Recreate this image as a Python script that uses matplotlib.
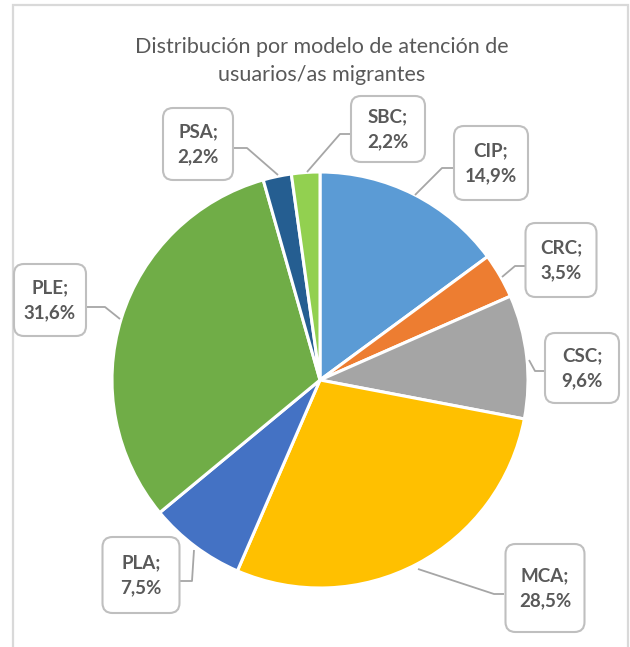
import matplotlib
matplotlib.use("Agg")
import matplotlib.pyplot as plt
from matplotlib.patches import FancyBboxPatch, Rectangle

title = "Distribución por modelo de atención de\nusuarios/as migrantes"
categories = ["CIP", "CRC", "CSC", "MCA", "PLA", "PLE", "PSA", "SBC"]
values = [14.9, 3.5, 9.6, 28.5, 7.5, 31.6, 2.2, 2.2]
value_labels = ["14,9%", "3,5%", "9,6%", "28,5%", "7,5%", "31,6%", "2,2%", "2,2%"]
colors = ["#5B9BD5", "#ED7D31", "#A5A5A5", "#FFC000", "#4472C4", "#70AD47", "#255E91", "#92D050"]

W, H = 630, 647
fig = plt.figure(figsize=(W / 100, H / 100), dpi=100)
ax = fig.add_axes([0, 0, 1, 1])

def Y(py):
    return H - py

# pie
ax.pie(values, colors=colors, startangle=90, counterclock=False,
       center=(320, Y(380)), radius=208,
       wedgeprops=dict(edgecolor="white", linewidth=2.2), frame=True)
ax.set_xlim(0, W)
ax.set_ylim(0, H)
ax.set_aspect("equal")
ax.axis("off")

# chart frame
ax.add_patch(Rectangle((13, Y(700)), 615, 700 - 5, fill=False,
                       edgecolor="#D9D9D9", linewidth=1.6))

# title
ax.text(322, Y(61), title, ha="center", va="center", fontsize=15.5,
        family="Lato", fontweight="normal", color="#595959", linespacing=1.55)

# label boxes: (center x, center y, width, height) in pixels
boxes = {
    "CIP": (491, 163, 74, 74),
    "CRC": (561, 260, 71, 74),
    "CSC": (582, 368, 74, 70),
    "MCA": (545, 588, 79, 88),
    "PLA": (141, 575, 77, 76),
    "PLE": (50, 300, 72, 72),
    "PSA": (198, 144, 70, 72),
    "SBC": (388, 129, 74, 66),
}
leaders = {
    "CIP": [(453, 168), (442, 168), (415, 195)],
    "CRC": [(526, 266), (515, 266), (502, 277)],
    "CSC": [(545, 371), (535, 371), (529, 360)],
    "MCA": [(504, 594), (494, 594), (418, 569)],
    "PLA": [(180, 581), (192, 581), (194, 550)],
    "PLE": [(86, 307), (105, 307), (120, 319)],
    "PSA": [(233, 148), (247, 148), (278, 175)],
    "SBC": [(350, 134), (340, 134), (307, 172)],
}

for cat, lab in zip(categories, value_labels):
    pts = leaders[cat]
    ax.plot([p[0] for p in pts], [Y(p[1]) for p in pts], color="#A6A6A6",
            linewidth=1.3, solid_capstyle="butt", zorder=3)
    cx, cy, w, h = boxes[cat]
    r = 10
    ax.add_patch(FancyBboxPatch((cx - w / 2 + r, Y(cy) - h / 2 + r), w - 2 * r, h - 2 * r,
                                boxstyle=f"round,pad={r},rounding_size={r}",
                                facecolor="white", edgecolor="#BFBFBF", linewidth=1.5, zorder=4))
    ax.text(cx, Y(cy), f"{cat};\n{lab}", ha="center", va="center", fontsize=13.5,
            family="Lato", fontweight="bold", color="#595959", linespacing=1.6, zorder=5)

fig.savefig("out.png", dpi=100)
